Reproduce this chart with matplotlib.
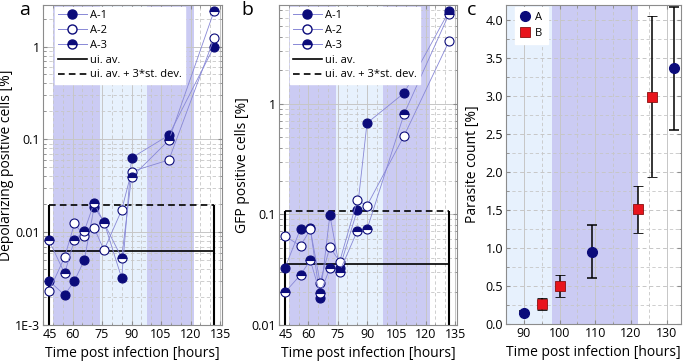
import matplotlib
matplotlib.use("Agg")
import matplotlib.pyplot as plt
from matplotlib.lines import Line2D
from matplotlib.ticker import FixedLocator, MultipleLocator, LogLocator, NullFormatter
import numpy as np

plt.rcParams['font.family'] = ['Open Sans', 'DejaVu Sans']

# saatler (a ve b icin ortak)
hours = [48, 56, 61, 66, 71, 76, 85, 90, 109, 132]
xticks_ab = [45, 60, 75, 90, 105, 120, 135]

# panel a - depolarizing positive cells [%]
a_A1 = [0.0030, 0.0021, 0.0030, 0.0050, 0.0187, 0.0129, 0.0032, 0.063, 0.111, 1.00]
a_A2 = [0.0023, 0.0054, 0.0124, 0.0091, 0.0111, 0.0064, 0.0173, 0.045, 0.060, 1.23]
a_A3 = [0.0082, 0.0036, 0.0083, 0.0103, 0.0207, 0.0126, 0.0053, 0.039, 0.098, 2.42]
a_av = 0.0062
a_av3sd = 0.0196

# panel b - GFP positive cells [%]
b_A1 = [0.0326, 0.0740, 0.0745, 0.0177, 0.0986, 0.0326, 0.109, 0.668, 1.25, 6.9]
b_A2 = [0.0638, 0.0518, 0.0732, 0.0242, 0.0507, 0.0374, 0.134, 0.120, 0.515, 3.7]
b_A3 = [0.0197, 0.0284, 0.0385, 0.0193, 0.0326, 0.0304, 0.0707, 0.0732, 0.813, 6.5]
b_av = 0.0355
b_av3sd = 0.107

# panel c - parasite count [%]
cA_x = [90, 109, 132]
cA_y = [0.15, 0.95, 3.37]
cA_lo = [0.13, 0.60, 2.55]
cA_hi = [0.17, 1.30, 4.18]
cB_x = [95, 100, 122, 126]
cB_y = [0.26, 0.50, 1.51, 2.99]
cB_lo = [0.18, 0.36, 1.20, 1.93]
cB_hi = [0.34, 0.64, 1.82, 4.05]

# renkler
navy = '#0b0b7a'
linecol = '#8888d6'
dark_band = '#cbcbf3'
light_band = '#e7f1fd'
gridcol = '#c6c6c6'
red = '#e8141c'

TICK = 9
LAB = 10

fig = plt.figure(figsize=(6.85, 3.63), dpi=100)
ax_a = fig.add_axes([43/685, 38/363, 179/685, 320/363])
ax_b = fig.add_axes([279/685, 38/363, 178/685, 320/363])
ax_c = fig.add_axes([506/685, 39/363, 175/685, 319/363])


def bands(ax, start):
    ax.axvspan(start, 74, color=dark_band, lw=0, zorder=0)
    ax.axvspan(74, 98, color=light_band, lw=0, zorder=0)
    ax.axvspan(98, 122, color=dark_band, lw=0, zorder=0)


def style(ax):
    for s in ax.spines.values():
        s.set_color('#8c8c8c')
        s.set_linewidth(0.8)
    ax.tick_params(which='both', direction='in', top=True, right=True,
                   colors='#8c8c8c', labelcolor='black', labelsize=TICK, pad=2)
    ax.tick_params(which='major', length=3)
    ax.tick_params(which='minor', length=1.8)
    ax.grid(which='major', color=gridcol, lw=0.7, ls='-', zorder=0.5)
    ax.grid(which='minor', color=gridcol, lw=0.6, ls=(0, (4, 3)), zorder=0.5)
    ax.set_axisbelow(True)
    ax.set_xlabel('Time post infection [hours]', fontsize=LAB, labelpad=4)


def series_panel(ax, A1, A2, A3, av, av3sd, ylim, yticks, yticklabels, ylabel, legx):
    bands(ax, 50)
    ax.set_yscale('log')
    ax.set_xlim(45, 136)
    ax.set_ylim(*ylim)
    mk = dict(marker='o', ms=6.5, color=linecol, lw=0.6, mec=navy, mew=0.8, zorder=3)
    ax.plot(hours, A1, mfc=navy, label='A-1', **mk)
    ax.plot(hours, A2, mfc='white', label='A-2', **mk)
    ax.plot(hours, A3, mfc=navy, mfcalt='white', fillstyle='top', label='A-3', **mk)
    ax.hlines(av, hours[0], hours[-1], color='black', lw=1.2, zorder=2)
    ax.hlines(av3sd, hours[0], hours[-1], color='black', lw=1.2, ls=(0, (4, 2.5)), zorder=2)
    ax.vlines([hours[0], hours[-1]], ylim[0], av3sd, color='black', lw=1.5, zorder=2)
    ax.set_xticks(xticks_ab)
    ax.xaxis.set_minor_locator(MultipleLocator(5))
    ax.yaxis.set_major_locator(FixedLocator(yticks))
    ax.set_yticklabels(yticklabels)
    ax.yaxis.set_minor_locator(LogLocator(base=10, subs=np.arange(2, 10)))
    ax.yaxis.set_minor_formatter(NullFormatter())
    style(ax)
    ax.set_ylabel(ylabel, fontsize=LAB, labelpad=1)
    handles = [
        Line2D([], [], color=linecol, lw=0.7, marker='o', ms=6.5, mec=navy, mfc=navy),
        Line2D([], [], color=linecol, lw=0.7, marker='o', ms=6.5, mec=navy, mfc='white'),
        Line2D([], [], color=linecol, lw=0.7, marker='o', ms=6.5, mec=navy, mfc=navy,
               mfcalt='white', fillstyle='top'),
        Line2D([], [], color='black', lw=1.2),
        Line2D([], [], color='black', lw=1.2, ls=(0, (4, 2.5))),
    ]
    leg = ax.legend(handles, ['A-1', 'A-2', 'A-3', 'ui. av.', 'ui. av. + 3*st. dev.'],
                    loc='upper left', bbox_to_anchor=(legx, 0.995), borderaxespad=0,
                    fontsize=8, handlelength=2.6, handletextpad=0.3, labelspacing=0.35,
                    fancybox=False, framealpha=1, edgecolor='white', borderpad=0.3)
    leg.set_zorder(5)


series_panel(ax_a, a_A1, a_A2, a_A3, a_av, a_av3sd, (1e-3, 2.8),
             [1e-3, 1e-2, 1e-1, 1], ['1E-3', '0.01', '0.1', '1'],
             'Depolarizing positive cells [%]', 0.065)
series_panel(ax_b, b_A1, b_A2, b_A3, b_av, b_av3sd, (0.01, 7.8),
             [0.01, 0.1, 1], ['0.01', '0.1', '1'],
             'GFP positive cells [%]', 0.06)

# panel c
ax_c.axvspan(85, 98, color=light_band, lw=0, zorder=0)
ax_c.axvspan(98, 122, color=dark_band, lw=0, zorder=0)
ax_c.set_xlim(85, 134)
ax_c.set_ylim(0, 4.2)
errA = [np.array(cA_y) - np.array(cA_lo), np.array(cA_hi) - np.array(cA_y)]
errB = [np.array(cB_y) - np.array(cB_lo), np.array(cB_hi) - np.array(cB_y)]
ax_c.errorbar(cA_x, cA_y, yerr=errA, fmt='o', ms=7, mfc=navy, mec=navy,
              ecolor='black', elinewidth=1.1, capsize=3.5, capthick=1.1, zorder=3)
ax_c.errorbar(cB_x, cB_y, yerr=errB, fmt='s', ms=6.5, mfc=red, mec='#8a1010', mew=0.6,
              ecolor='black', elinewidth=1.1, capsize=3.5, capthick=1.1, zorder=3)
ax_c.xaxis.set_major_locator(MultipleLocator(10))
ax_c.xaxis.set_minor_locator(MultipleLocator(5))
ax_c.yaxis.set_major_locator(MultipleLocator(0.5))
ax_c.yaxis.set_minor_locator(MultipleLocator(0.25))
ax_c.yaxis.set_major_formatter(lambda v, p: f'{v:.1f}')
style(ax_c)
ax_c.grid(axis='y', which='major', color=gridcol, lw=0.7, ls=(0, (4, 3)))
ax_c.set_ylabel('Parasite count [%]', fontsize=LAB, labelpad=4)
hc = [Line2D([], [], ls='', marker='o', ms=7, mfc=navy, mec=navy),
      Line2D([], [], ls='', marker='s', ms=6.5, mfc=red, mec='#8a1010', mew=0.6)]
leg_c = ax_c.legend(hc, ['A', 'B'], loc='upper left', bbox_to_anchor=(0.05, 0.995),
                    borderaxespad=0, fontsize=8, handletextpad=0.4, fancybox=False,
                    framealpha=1, edgecolor='white', borderpad=0.45, labelspacing=0.45,
                    handlelength=1.0)
leg_c.set_zorder(5)

# panel harfleri
fig.text(25/685, 1 - 10/363, 'a', fontsize=14, va='center', ha='center')
fig.text(247/685, 1 - 10/363, 'b', fontsize=14, va='center', ha='center')
fig.text(472/685, 1 - 10/363, 'c', fontsize=14, va='center', ha='center')

# ilk "45" etiketi 1E-3 / 0.01 ile cakismasin diye saga kaydiriliyor
fig.canvas.draw()
for ax in (ax_a, ax_b):
    ax.get_xticklabels()[0].set_horizontalalignment('left')
    ax.get_xticklabels()[0].set_x(45.3)

fig.savefig('out.png', dpi=100)
